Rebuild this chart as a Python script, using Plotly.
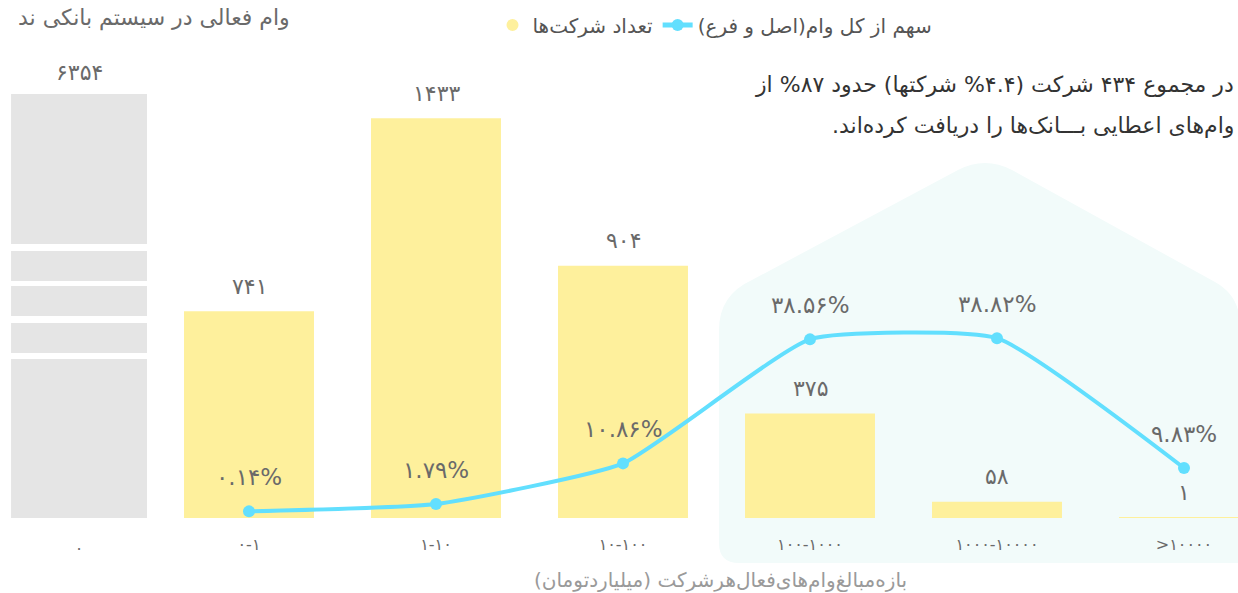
import plotly.graph_objects as go

# ---------------- data ----------------
categories = ["۰-۱", "۱-۱۰", "۱۰-۱۰۰", "۱۰۰-۱۰۰۰", "۱۰۰۰-۱۰۰۰۰", ">۱۰۰۰۰"]
company_counts = [741, 1433, 904, 375, 58, 1]
loan_share_pct = [0.14, 1.79, 10.86, 38.56, 38.82, 9.83]
no_loan_category = ["۰"]
no_loan_count = [6354]

legend_bar_name = "تعداد شرکت‌ها"
legend_line_name = "سهم از کل وام(اصل و فرع)\u200f"
x_title = "بازه‌مبالغ‌وام‌های‌فعال‌هرشرکت (میلیاردتومان)\u200f"
top_left_text = "وام فعالی در سیستم بانکی ند"
note_line1 = "در مجموع ۴۳۴ شرکت (۴.۴% شرکتها) حدود ۸۷% از"
note_line2 = "وام‌های اعطایی بـــانک‌ها را دریافت کرده‌اند.\u200f"

# ---------------- helpers ----------------
FA = str.maketrans("0123456789", "۰۱۲۳۴۵۶۷۸۹")
LRM = "\u200e"


def fa(s):
    return LRM + str(s).translate(FA)


W, H = 1238, 593
T, B = 60, 75
PLOT_H = H - T - B
BASE_Y = H - B


def paper(px, py):
    return px / W, (BASE_Y - py) / PLOT_H


FONT = "DejaVu Sans"
YELLOW = "#FEF09C"
BLUE = "#62DFFE"
GRAY = "#E5E5E5"
LABEL = "#6a6a6a"

fig = go.Figure()

# gray "no loan" bar (own subplot, truncated)
fig.add_trace(go.Bar(
    x=[0], y=no_loan_count, xaxis="x2", yaxis="y3",
    marker=dict(color=GRAY, line=dict(width=0)), width=0.877,
    showlegend=False, hoverinfo="skip"))

# yellow bars
fig.add_trace(go.Bar(
    x=categories, y=company_counts, xaxis="x", yaxis="y",
    marker=dict(color=YELLOW, line=dict(width=0)), width=0.695,
    showlegend=False, name=legend_bar_name))

# legend proxy (circle) for bars
fig.add_trace(go.Scatter(
    x=[None], y=[None], mode="markers", name=legend_bar_name,
    marker=dict(color=YELLOW, size=14, symbol="circle"), showlegend=True))

# line on secondary axis
fig.add_trace(go.Scatter(
    x=categories, y=loan_share_pct, xaxis="x", yaxis="y2",
    mode="lines+markers", name=legend_line_name,
    line=dict(color=BLUE, width=4, shape="spline", smoothing=0.45),
    marker=dict(color=BLUE, size=12)))

annotations = []
for c, v in zip(categories, company_counts):
    annotations.append(dict(x=c, y=v, xref="x", yref="y", text=fa(v),
                            showarrow=False, yanchor="middle", yshift=25,
                            font=dict(family=FONT, size=22, color=LABEL)))
for c, v in zip(categories, loan_share_pct):
    annotations.append(dict(x=c, y=v, xref="x", yref="y2", text=fa(f"{v:.2f}") + "%",
                            showarrow=False, yanchor="middle", yshift=34,
                            font=dict(family=FONT, size=23, color=LABEL)))
annotations.append(dict(x=0, y=no_loan_count[0], xref="x2", yref="y3",
                        text=fa(no_loan_count[0]), showarrow=False,
                        yanchor="middle", yshift=22,
                        font=dict(family=FONT, size=22, color=LABEL)))

# titles / notes
ax, ay = paper(720, 580)
annotations.append(dict(x=ax, y=ay, xref="paper", yref="paper", text=x_title,
                        showarrow=False, xanchor="center", yanchor="middle",
                        font=dict(family=FONT, size=20, color="#9a9a9a")))
tx, ty = paper(292, 18)
annotations.append(dict(x=tx, y=ty, xref="paper", yref="paper", text=top_left_text,
                        showarrow=False, xanchor="right", yanchor="middle",
                        font=dict(family=FONT, size=22, color=LABEL)))
n1x, n1y = paper(1236, 85)
annotations.append(dict(x=n1x, y=n1y, xref="paper", yref="paper", text=note_line1,
                        showarrow=False, xanchor="right", yanchor="middle",
                        font=dict(family=FONT, size=22, color="#333333")))
n2x, n2y = paper(1236, 125)
annotations.append(dict(x=n2x, y=n2y, xref="paper", yref="paper", text=note_line2,
                        showarrow=False, xanchor="right", yanchor="middle",
                        font=dict(family=FONT, size=22, color="#333333")))

# decorative shapes
pts = [("M", 739, 563), ("Q", 719, 563, 719, 543), ("L", 719, 330),
       ("Q", 719, 295, 752, 280), ("L", 958, 170), ("Q", 985, 156, 1012, 170),
       ("L", 1215, 282), ("Q", 1240, 296, 1240, 325), ("L", 1240, 563)]
path = ""
for p in pts:
    cmd = p[0]
    coords = p[1:]
    parts = []
    for i in range(0, len(coords), 2):
        x, y = paper(coords[i], coords[i + 1])
        parts.append(f"{x:.5f},{y:.5f}")
    path += cmd + " " + " ".join(parts) + " "
path += "Z"

shapes = [dict(type="path", path=path, xref="paper", yref="paper",
               fillcolor="#F2FBFA", line=dict(width=0), layer="below")]
for y0, y1 in [(244, 251), (281, 286), (316, 323), (353, 359)]:
    _, p0 = paper(0, y0)
    _, p1 = paper(0, y1)
    shapes.append(dict(type="rect", xref="paper", yref="paper", x0=0, x1=155 / W,
                       y0=p1, y1=p0, fillcolor="white", line=dict(width=0),
                       layer="above"))

lx, ly = paper(715, 25)

fig.update_layout(
    width=W, height=H,
    margin=dict(l=0, r=0, t=T, b=B, pad=0),
    paper_bgcolor="white", plot_bgcolor="rgba(0,0,0,0)",
    font=dict(family=FONT, color=LABEL),
    showlegend=True,
    legend=dict(orientation="h", x=lx, y=ly, xanchor="center", yanchor="middle",
                font=dict(family=FONT, size=20, color="#555555"),
                bgcolor="rgba(0,0,0,0)", itemsizing="constant"),
    xaxis=dict(domain=[155 / W, 1], range=[-0.5027, 5.2888], type="category",
               tickmode="array", tickvals=categories,
               ticktext=[LRM + c for c in categories],
               showgrid=False, zeroline=False, showline=False,
               ticks="outside", ticklen=12, tickcolor="rgba(0,0,0,0)",
               tickfont=dict(family=FONT, size=16, color=LABEL)),
    xaxis2=dict(domain=[0, 155 / W], range=[-0.5097, 0.4903], anchor="y3",
                tickvals=[0], ticktext=no_loan_category,
                showgrid=False, zeroline=False, showline=False,
                ticks="outside", ticklen=16, tickcolor="rgba(0,0,0,0)",
                tickfont=dict(family=FONT, size=16, color=LABEL)),
    yaxis=dict(domain=[0, 1], range=[0, PLOT_H / 0.2789], visible=False),
    yaxis2=dict(overlaying="y", side="right", range=[-6 / 4.477, (PLOT_H - 6) / 4.477],
                visible=False),
    yaxis3=dict(domain=[0, 1], anchor="x2", range=[0, 6354 * PLOT_H / 424], visible=False),
    annotations=annotations,
    shapes=shapes,
    bargap=0.3,
)

fig.write_html("out.html", config={"displayModeBar": False},
               post_script="document.body.style.margin='0';document.body.style.overflow='hidden';")
